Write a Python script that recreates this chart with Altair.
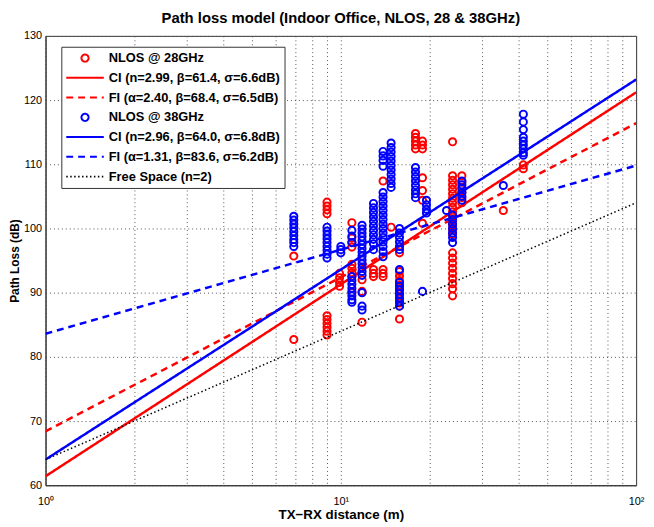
import altair as alt
import pandas as pd

# ---------------- data ----------------
# measured path loss, distance (m) -> list of PL values (dB)
nlos28 = {
    6.93: [95.7, 82.7],
    8.98: [104.1, 103.5, 102.9, 102.3, 86.4, 85.8, 85.2, 84.6, 84.0, 83.4],
    9.9: [93.0, 92.3, 91.6, 91.0],
    10.9: [100.9, 98.5, 97.8, 97.1, 94.4, 93.8, 93.1, 92.5, 90.0],
    11.8: [92.0, 90.2, 85.4],
    12.9: [93.6, 93.0, 92.5],
    13.9: [107.4, 93.6, 93.0, 92.5],
    14.8: [100.2],
    15.8: [96.2, 93.3, 92.6, 91.9, 91.2, 90.5, 89.8, 89.1, 88.4, 87.9, 85.9],
    17.9: [114.8, 114.2, 113.6, 113.0, 112.4],
    18.9: [113.6, 113.0, 112.4, 107.9, 105.9, 104.4, 100.8],
    23.9: [113.5, 108.2, 107.5, 106.8, 106.1, 105.4, 104.7, 104.0, 103.3, 102.6,
           101.9, 101.2, 100.5, 99.8, 99.1, 96.2, 95.4, 94.6, 93.8, 93.0, 92.2,
           91.4, 90.6, 89.5],
    25.7: [108.2, 107.2, 106.4, 105.6, 104.8, 104.0],
    35.5: [102.8],
    41.5: [109.3, 109.9],
}

nlos38 = {
    6.93: [101.9, 101.3, 100.7, 100.1, 99.5, 98.9, 98.3, 97.8, 97.2],
    8.98: [100.2, 99.6, 99.0, 98.4, 97.8, 97.2, 96.6, 96.0, 95.4],
    10.0: [97.2, 96.7, 96.2],
    10.9: [99.7, 98.8, 97.8, 92.5, 91.9, 91.3, 90.7, 90.1, 89.5, 88.9, 88.5],
    11.8: [100.5, 99.9, 99.3, 98.7, 98.1, 97.5, 96.9, 96.3, 95.7, 95.1, 94.5,
           93.9, 93.3, 92.7, 90.0, 87.9, 87.3],
    12.9: [103.9, 103.2, 102.5, 101.8, 101.1, 100.4, 99.7, 99.0, 98.3, 97.6, 96.7],
    13.9: [112.0, 111.3, 110.6, 109.7, 105.6, 104.9, 104.2, 103.5, 102.8, 102.1,
           101.4, 100.7, 100.0, 99.3, 98.6, 97.9, 97.2, 96.4, 95.6],
    14.8: [113.3, 112.6, 111.9, 111.2, 110.5, 109.8, 109.1, 108.4, 107.7, 107.0, 106.4],
    15.8: [100.0, 99.3, 98.6, 97.9, 97.2, 96.7, 93.6, 91.6, 91.0, 90.4, 89.8,
           89.2, 88.6, 87.9],
    17.9: [109.5, 108.8, 108.1, 107.4, 106.7, 106.0, 105.4, 104.8],
    18.9: [90.2],
    19.5: [104.4, 103.7, 103.0, 102.4],
    22.8: [102.8],
    23.9: [102.1, 101.4, 100.7, 100.0, 99.3, 98.6, 97.8],
    25.7: [107.4, 106.8, 106.2, 105.6, 105.0, 104.4],
    35.5: [106.7],
    41.5: [117.8, 116.6, 115.4, 114.2, 113.6, 113.0, 112.4, 111.8, 111.4],
}

# fitted model lines, end values at 1 m and 100 m
line_dist = [1, 100]
ci28 = [61.4, 121.2]
fi28 = [68.4, 116.4]
ci38 = [64.0, 123.2]
fi38 = [83.6, 109.8]
free_space = [64.0, 104.0]

series_names = [
    "NLOS @ 28GHz",
    "CI (n=2.99, β=61.4, σ=6.6dB)",
    "FI (α=2.40, β=68.4, σ=6.5dB)",
    "NLOS @ 38GHz",
    "CI (n=2.96, β=64.0, σ=6.8dB)",
    "FI (α=1.31, β=83.6, σ=6.2dB)",
    "Free Space (n=2)",
]
series_colors = ["#ff0000", "#ff0000", "#ff0000", "#0000ff", "#0000ff", "#0000ff", "#000000"]
series_dash = [[1, 0], [1, 0], [7, 5], [1, 0], [1, 0], [7, 5], [1.5, 2.5]]

circle_path = "M0.19,0A0.19,0.19,0,1,1,-0.19,0A0.19,0.19,0,1,1,0.19,0Z"
stroke_path = "M-1,0L1,0"
series_shapes = [circle_path, stroke_path, stroke_path, circle_path,
                 stroke_path, stroke_path, stroke_path]

# ---------------- tables ----------------
pts = []
for name, cols in ((series_names[0], nlos28), (series_names[3], nlos38)):
    for d, vals in cols.items():
        for v in vals:
            pts.append({"d": d, "pl": v, "series": name})
pts_df = pd.DataFrame(pts)

lines = []
for name, vals in zip(
    [series_names[1], series_names[2], series_names[4], series_names[5], series_names[6]],
    [ci28, fi28, ci38, fi38, free_space],
):
    for d, v in zip(line_dist, vals):
        lines.append({"d": d, "pl": v, "series": name})
lines_df = pd.DataFrame(lines)

x_ticks = [1, 2, 3, 4, 5, 6, 7, 8, 9, 10, 20, 30, 40, 50, 60, 70, 80, 90, 100]
y_ticks = [60, 70, 80, 90, 100, 110, 120, 130]

x_enc = alt.X(
    "d:Q",
    scale=alt.Scale(type="log", domain=[1, 100], nice=False),
    axis=alt.Axis(
        values=x_ticks,
        labelExpr="datum.value == 1 ? '10⁰' : datum.value == 10 ? '10¹' : datum.value == 100 ? '10²' : ''",
        title="TX−RX distance (m)",
        ticks=False,
        labelPadding=10,
        titlePadding=2,
        titleFontSize=13.5,
        labelFlush=False,
    ),
)
y_enc = alt.Y(
    "pl:Q",
    scale=alt.Scale(domain=[60, 130], nice=False, zero=False),
    axis=alt.Axis(values=y_ticks, title="Path Loss (dB)", ticks=False,
                  labelPadding=4, titlePadding=2),
)
color_enc = alt.Color("series:N", scale=alt.Scale(domain=series_names, range=series_colors),
                      legend=alt.Legend(title=None))
shape_enc = alt.Shape("series:N", scale=alt.Scale(domain=series_names, range=series_shapes),
                      legend=alt.Legend(title=None))
dash_enc = alt.StrokeDash("series:N", scale=alt.Scale(domain=series_names, range=series_dash),
                          legend=alt.Legend(title=None))

points_red = alt.Chart(pts_df).transform_filter(
    alt.datum.series == series_names[0]
).mark_point(filled=False, size=1444, strokeWidth=2, opacity=1).encode(
    x=x_enc, y=y_enc, color=color_enc, shape=shape_enc)

lines_red = alt.Chart(lines_df).transform_filter(
    alt.FieldOneOfPredicate(field="series", oneOf=[series_names[1], series_names[2]])
).mark_line(strokeWidth=2.5, clip=True).encode(
    x=x_enc, y=y_enc, color=color_enc, strokeDash=dash_enc, detail="series:N")

points_blue = alt.Chart(pts_df).transform_filter(
    alt.datum.series == series_names[3]
).mark_point(filled=False, size=1444, strokeWidth=2, opacity=1).encode(
    x=x_enc, y=y_enc, color=color_enc, shape=shape_enc)

lines_blue = alt.Chart(lines_df).transform_filter(
    alt.FieldOneOfPredicate(field="series", oneOf=[series_names[4], series_names[5]])
).mark_line(strokeWidth=2.5, clip=True).encode(
    x=x_enc, y=y_enc, color=color_enc, strokeDash=dash_enc, detail="series:N")

line_fs = alt.Chart(lines_df).transform_filter(
    alt.datum.series == series_names[6]
).mark_line(strokeWidth=1.5, clip=True).encode(
    x=x_enc, y=y_enc, color=color_enc, strokeDash=dash_enc, detail="series:N")

chart = alt.layer(points_red, lines_red, points_blue, lines_blue, line_fs).properties(
    width=598,
    height=455,
    title="Path loss model (Indoor Office, NLOS, 28 & 38GHz)",
    autosize=alt.AutoSizeParams(type="none"),
    padding={"left": 38, "top": 25, "right": 10, "bottom": 35},
).configure_view(
    stroke="#333333", strokeWidth=1
).configure_axis(
    grid=True, gridColor="#555555", gridDash=[1, 3], gridWidth=1,
    domainColor="#333333", labelColor="#000000", labelFont="Liberation Sans",
    labelFontSize=11, titleFont="Liberation Sans", titleFontSize=12,
    titleFontWeight="bold", titleColor="#000000",
).configure_legend(
    orient="none", legendX=16, legendY=11, strokeColor="#333333", fillColor="white",
    padding=4, labelFont="Liberation Sans", labelFontSize=13, labelFontWeight="bold",
    labelColor="#000000", symbolStrokeWidth=2, symbolSize=1444, clipHeight=15,
    rowPadding=5, labelOffset=4, labelLimit=400,
).configure_title(
    font="Liberation Sans", fontSize=15, fontWeight="bold", anchor="middle",
    offset=4, color="#000000",
)

chart.save("out.html", embed_options={"renderer": "svg", "actions": False})
